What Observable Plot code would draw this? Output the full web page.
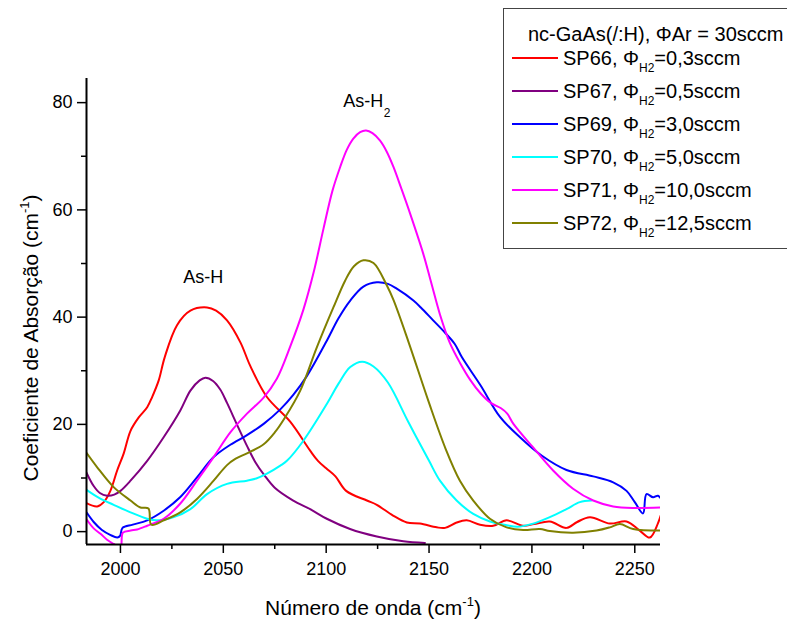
<!DOCTYPE html>
<html><head><meta charset="utf-8">
<script src="https://cdn.jsdelivr.net/npm/d3@7"></script>
<script src="https://cdn.jsdelivr.net/npm/@observablehq/plot@0.6"></script>
<style>
html,body{margin:0;padding:0;background:#fff;}
body{width:787px;height:621px;overflow:hidden;font-family:"Liberation Sans",Arial,sans-serif;color:#000;}
#wrap{position:relative;width:787px;height:621px;overflow:hidden;}
#wrap svg{position:absolute;left:0;top:0;}
.lab{position:absolute;white-space:nowrap;font-size:21px;line-height:1;}
.lab sup{font-size:13px;vertical-align:0;position:relative;top:-9px;}
#legend{position:absolute;left:503px;top:8px;width:380px;height:241px;border:1.5px solid #444;box-sizing:border-box;background:#fff;}
.lrow{position:absolute;white-space:nowrap;font-size:20px;line-height:24px;height:24px;}
.lrow .sw{position:absolute;left:0;top:11px;width:46px;height:2px;}
.lrow .tx{position:absolute;left:51px;top:0;}
.lrow sub{font-size:12px;vertical-align:0;position:relative;top:7px;}
</style></head>
<body><div id="wrap"></div>
<script>
const seriesNames = ["SP66","SP67","SP69","SP70","SP71","SP72"];
const flows = ["0,3","0,5","3,0","5,0","10,0","12,5"];
const colors = ["#ff0000","#800080","#0000ff","#00ffff","#ff00ff","#808000"];
const xTicks = [2000,2050,2100,2150,2200,2250];
const xMinor = [2025,2075,2125,2175,2225];
const yTicks = [0,20,40,60,80];
const yMinor = [10,30,50,70];

const sp66 = [[1983.5,5.3],[1988.7,4.7],[1991.9,5.5],[1995.1,7.6],[1998.4,11.4],[2001.6,14.6],[2004.9,18.8],[2008.9,21.3],[2013,23.2],[2015.4,25.1],[2018.6,28.2],[2021.5,32.5],[2027.5,38.5],[2034,41.2],[2042.1,41.8],[2046.5,41.2],[2051.8,39.4],[2058.3,35.3],[2063.1,30.9],[2071.2,25.1],[2082.5,20.5],[2092.2,15.1],[2096,13.2],[2100,11.8],[2104.5,10.3],[2109.7,7.6],[2119.8,5.8],[2124.6,5.0],[2132.5,3.0],[2139.2,1.7],[2145.6,1.5],[2153.7,0.8],[2157.8,0.7],[2163.4,1.7],[2168.3,2.1],[2174.8,1.3],[2181.2,1.1],[2187.7,2.1],[2195.6,1.1],[2201,1.4],[2208.7,1.9],[2216.8,0.7],[2222,1.8],[2228.2,2.7],[2237.9,1.5],[2246,1.9],[2252.4,0.2],[2257.3,-1.1],[2261.2,1.5],[2263.6,4.3]];
const sp67 = [[1983.5,11],[1987,8.5],[1990,7.2],[1993.5,6.7],[1997,6.9],[2000,7.6],[2004.9,9.5],[2013,13.2],[2021,17.6],[2029.1,22.6],[2034,26.3],[2038.5,28.2],[2041.3,28.7],[2045,28.1],[2048.5,26.5],[2051.8,24],[2056.6,20],[2061.5,16],[2065.5,13],[2070,10.5],[2075,8.2],[2084,5.8],[2092.2,4.2],[2100.3,2.4],[2111.6,0.5],[2124.6,-0.9],[2137.5,-1.8],[2148,-2.1]];
const sp69 = [[1983.5,3.6],[1987,1.8],[1991,0.3],[1995,-0.6],[1998.5,-1.1],[1999.8,-0.8],[2001,0.7],[2006,1.3],[2013,2.1],[2021,3.9],[2029,6.4],[2037.2,10.1],[2045.3,13.9],[2053.4,16.2],[2061.5,18],[2069.6,20.1],[2077.7,22.8],[2084,25.5],[2090.6,29],[2100.3,35.6],[2106,39.8],[2111.7,43.1],[2118.1,45.7],[2124.6,46.5],[2130,46.2],[2134.3,45.3],[2142.4,43.1],[2146,41.8],[2152,39.4],[2158,37],[2162.5,35],[2166,32.5],[2175,27.3],[2184.5,21.4],[2194.2,17.6],[2204.7,14.2],[2216.8,11.5],[2229.8,10.3],[2239.5,9.2],[2246,7.6],[2250,5.5],[2254,3.4],[2255.7,7],[2258.9,6.4],[2261.3,6.7],[2263.7,5.5]];
const sp70 = [[1983.5,7.8],[1990,6.2],[1996.7,5.0],[2004.9,3.6],[2013,2.4],[2017.8,2.1],[2025.9,2.7],[2034,4.2],[2042.1,7],[2051.8,8.9],[2061.5,9.5],[2066,9.9],[2071.2,10.8],[2077.7,12.3],[2080.9,13.2],[2089,17],[2100.3,23.8],[2106,27.6],[2111.7,30.7],[2117.5,31.7],[2123,30.8],[2130,27.8],[2140,20.4],[2150,13.2],[2155.3,9.5],[2163.4,5.8],[2171.5,3.3],[2179.6,1.9],[2187.7,1.2],[2193,0.9],[2200.6,1.5],[2208.7,2.7],[2216.8,4.2],[2223.3,5.5],[2229,5.8]];
const sp71 = [[1983.5,2.3],[1987,0.6],[1990.3,-0.4],[1993.5,-1.5],[1996.7,-2.3],[2000,-3.0],[2001.2,-0.2],[2005,0.2],[2008.1,0.4],[2013,1.1],[2021,2.4],[2029,5.2],[2037.2,9.5],[2045.3,13.9],[2053.4,18.5],[2061.5,22],[2069.6,25],[2076,28.5],[2082.5,34.5],[2089,41.5],[2094,48.5],[2098.7,56.5],[2103,63.5],[2106.8,68],[2110,71.2],[2113.2,73.3],[2116.5,74.5],[2119.4,74.8],[2122.5,74.3],[2126.2,72.9],[2129.5,70.8],[2132.7,68],[2136.5,64],[2140.8,59.3],[2147.2,51.8],[2151,46.5],[2155.3,40.5],[2160,35.3],[2165,31.5],[2170,28.3],[2175,25.8],[2180,24],[2185,23],[2188,22],[2191,20.1],[2200.6,15.7],[2210.3,11.4],[2220,8],[2229.8,5.8],[2239.5,4.7],[2249.2,4.4],[2263.7,4.5]];
const sp72 = [[1983.5,14.7],[1988.7,12],[1996.7,8.3],[2004.9,5.8],[2009.7,4.5],[2013.6,4.3],[2015,1.3],[2021,2.1],[2029.1,3.6],[2037.2,6.1],[2045.3,9.5],[2051.8,12.4],[2056,13.6],[2061.5,14.6],[2069.6,16.3],[2075,18.5],[2080,21.3],[2087.4,26.3],[2095.5,34.4],[2103.5,41.8],[2109.2,46.8],[2113.5,49.5],[2118.1,50.6],[2123,50.1],[2129.5,45.9],[2132.7,43.2],[2140,35.4],[2150,24],[2158,15.5],[2165,9.5],[2171.5,5.8],[2179.6,2.4],[2187.7,0.8],[2195.8,0.3],[2203.9,0.5],[2208.7,0.1],[2220,-0.2],[2231.4,0.2],[2237.9,0.8],[2242.7,1.4],[2249.2,0.5],[2263.7,0.2]];

const allSeries = [sp66, sp67, sp69, sp70, sp71, sp72];
const rows = allSeries.flatMap((arr, i) => arr.map(([x, y]) => ({s: seriesNames[i], x, y})));

const xDomain = [1983.5, 2262.5];
const yDomain = [-2.4, 84.5];

const annotations = [{x: 2040.3, y: 47.4, t: "As-H"}, {x: 2118, y: 80.3, t: "As-H"}];
const annotationSubs = [{x: 2118, y: 78.0, t: "2"}];

const chart = Plot.plot({
  width: 787, height: 621,
  marginLeft: 86, marginRight: 127, marginTop: 78, marginBottom: 77,
  x: {domain: xDomain},
  y: {domain: yDomain},
  color: {domain: seriesNames, range: colors},
  style: {fontFamily: "Liberation Sans, Arial, sans-serif", fontSize: "18px", color: "#000", background: "transparent", overflow: "visible"},
  marks: [
    Plot.line(rows, {x: "x", y: "y", z: "s", stroke: "s", strokeWidth: 2, curve: "catmull-rom", clip: true}),
    Plot.axisX(xTicks, {tickSize: 9, tickPadding: 9, fontSize: 18, label: null, strokeWidth: 1.5, tickFormat: d => String(d)}),
    Plot.axisX(xMinor, {tickSize: 5, label: null, strokeWidth: 1.5, tickFormat: () => ""}),
    Plot.axisY(yTicks, {tickSize: 9, tickPadding: 5, fontSize: 18, label: null, strokeWidth: 1.5, tickFormat: d => String(d)}),
    Plot.axisY(yMinor, {tickSize: 5, label: null, strokeWidth: 1.5, tickFormat: () => ""}),
    Plot.ruleX([xDomain[0]], {strokeWidth: 2}),
    Plot.ruleY([yDomain[0]], {strokeWidth: 2}),
    Plot.text(annotations, {x: "x", y: "y", text: "t", fontSize: 18, fill: "#000"}),
    Plot.text(annotationSubs, {x: "x", y: "y", text: "t", fontSize: 12, dx: 24, fill: "#000"})
  ]
});
const wrap = document.getElementById("wrap");
wrap.appendChild(chart);

// axis titles
const xt = document.createElement("div");
xt.className = "lab";
xt.innerHTML = "Número de onda (cm<sup>-1</sup>)";
xt.style.left = "373px"; xt.style.top = "607px"; xt.style.transform = "translate(-50%,-50%)";
wrap.appendChild(xt);
const yt = document.createElement("div");
yt.className = "lab";
yt.innerHTML = "Coeficiente de Absorção (cm<sup>-1</sup>)";
yt.style.left = "30px"; yt.style.top = "338px"; yt.style.transform = "translate(-50%,-50%) rotate(-90deg)";
wrap.appendChild(yt);

// legend
const lg = document.createElement("div");
lg.id = "legend";
const title = document.createElement("div");
title.className = "lrow";
title.style.left = "24px"; title.style.top = (33 - 8 - 12) + "px";
title.textContent = "nc-GaAs(/:H), ΦAr = 30sccm";
lg.appendChild(title);
seriesNames.forEach((n, i) => {
  const r = document.createElement("div");
  r.className = "lrow";
  r.style.left = "8px";
  r.style.top = (57 + i * 33 - 8 - 12) + "px";
  r.innerHTML = `<div class="sw" style="background:${colors[i]}"></div><div class="tx">${n}, Φ<sub>H2</sub>=${flows[i]}sccm</div>`;
  lg.appendChild(r);
});
wrap.appendChild(lg);
</script>
</body></html>
